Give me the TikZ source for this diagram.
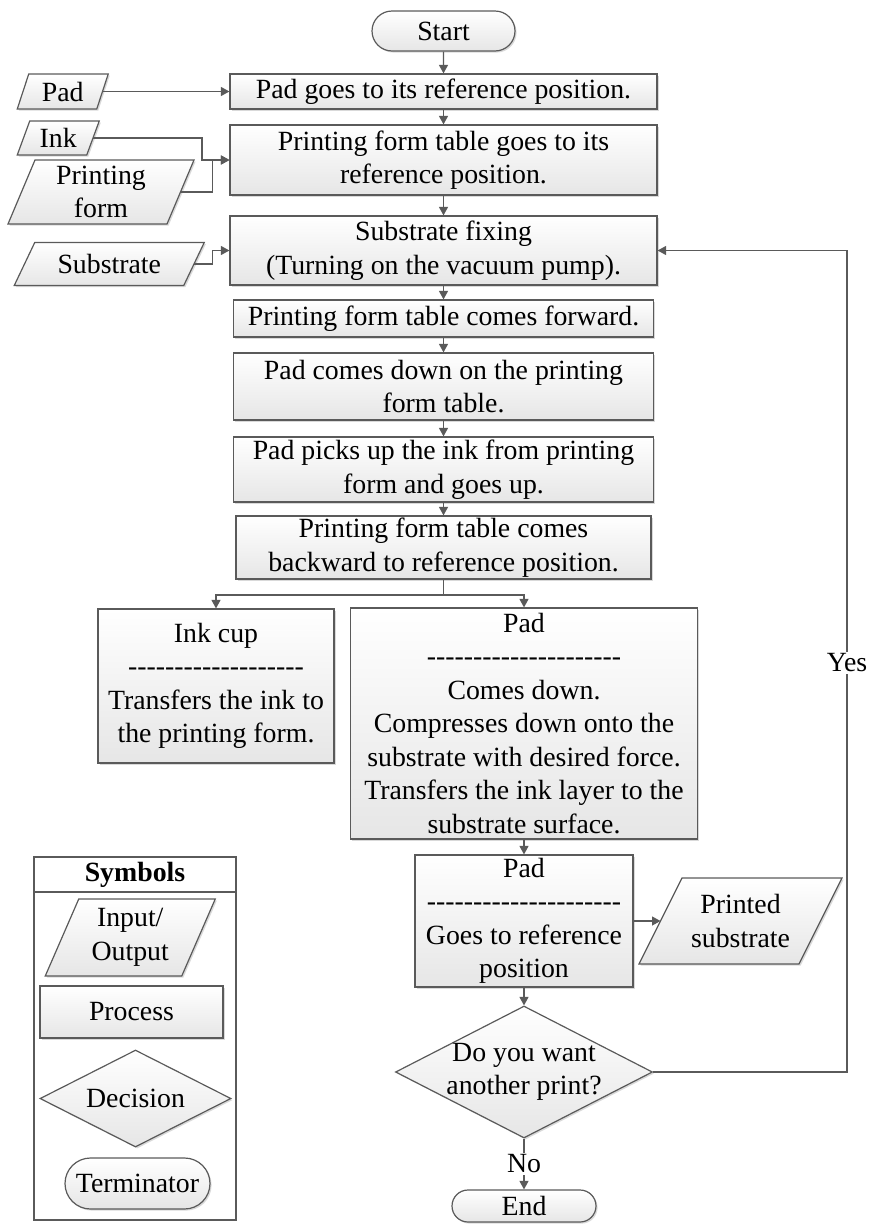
\documentclass[tikz,border=0pt]{standalone}
\usepackage{fontspec}
\setmainfont{Liberation Serif}
\usetikzlibrary{arrows.meta,shapes.geometric,shapes.misc,shadows}

\definecolor{linegray}{HTML}{5A5A5A}
\definecolor{shadebottom}{HTML}{E6E6E6}

\newcommand\basefont{\fontsize{27.8pt}{33.5pt}\selectfont}
% a row of separate hyphens (kerns stop them merging into dashes)
\newcommand\dashrow[1]{\foreach \k in {1,...,#1}{-\kern0pt}}

\tikzset{
  line/.style={draw=linegray, line width=1.2pt},
  arrow/.style={line, -{Triangle[length=8.5pt,width=9pt]}},
  shaded/.style={top color=white, bottom color=shadebottom, draw=linegray,
    line width=1.2pt,
    drop shadow={shadow xshift=1.6pt, shadow yshift=-1.6pt, opacity=0.15, fill=black}},
  size/.style 2 args={minimum width=#1pt, minimum height=#2pt},
  process/.style={shaded, rectangle, align=center, inner sep=0pt},
  terminal/.style={shaded, rounded rectangle, inner sep=0pt},
  decision/.style={shaded, diamond, inner sep=0pt},
  plain/.style={align=center, inner sep=0pt},
  iotext/.style={rectangle, align=center, inner sep=0pt, outer sep=0pt},
  tag/.style={fill=white, inner sep=1.5pt},
}

% parallelogram: name, centre x, centre y, side length, height, offset of top edge, text
\newcommand\ioshape[7]{%
  \path[shaded] ({#2-#4/2-#6/2},{#3+#5/2}) -- ({#2+#4/2-#6/2},{#3+#5/2})
    -- ({#2+#4/2+#6/2},{#3-#5/2}) -- ({#2-#4/2+#6/2},{#3-#5/2}) -- cycle;
  \node[iotext, size={#4}{#5}] (#1) at (#2,#3) {#7};}

\begin{document}
\begin{tikzpicture}[x=1pt, y=-1pt, font=\basefont]
\useasboundingbox (0,0) rectangle (869,1224);

% main column
\node[terminal, size={143}{40}] (start) at (443.5,31) {Start};
\node[process, size={427}{35}] (b1) at (443.5,91.5) {Pad goes to its reference position.};
\node[process, size={427}{70}] (b2) at (443.5,160) {Printing form table goes to its\\reference position.};
\node[process, size={427}{69}] (b3) at (443.5,250.5) {Substrate fixing\\(Turning on the vacuum pump).};
\node[process, size={420}{37}] (b4) at (443.5,318.5) {Printing form table comes forward.};
\node[process, size={420}{67}] (b5) at (443.5,386.5) {Pad comes down on the printing\\form table.};
\node[process, size={420}{65}] (b6) at (443.5,469.5) {Pad picks up the ink from printing\\form and goes up.};
\node[process, size={415}{63}] (b7) at (443.5,547.5) {Printing form table comes\\backward to reference position.};

% two branches
\node[process, size={236}{154}] (inkcup) at (216,686)
  {Ink cup\\\dashrow{19}\\Transfers the ink to\\the printing form.};
\node[process, size={347}{231}] (padbig) at (524,723.5)
  {Pad\\\dashrow{21}\\Comes down.\\Compresses down onto the\\substrate with desired force.\\Transfers the ink layer to the\\substrate surface.};
\node[process, size={218}{132}] (padsmall) at (524,921)
  {Pad\\\dashrow{21}\\Goes to reference\\position};
\node[decision, size={257}{132}] (dec) at (524,1072) {};
\node[plain] (dectext) at (dec) {Do you want\\another print?};
\node[terminal, size={144}{32}] (end) at (524,1206) {End};

% inputs and output
\ioshape{padin}{62.75}{91.5}{79.5}{35}{11.5}{Pad}
\ioshape{ink}{58.25}{138}{69.5}{34}{12.5}{Ink}
\ioshape{pform}{101}{192}{159}{64}{27}{Printing\\form}
\ioshape{subin}{109.25}{264}{169.5}{43}{20.5}{Substrate}
\ioshape{printed}{740.5}{921}{160}{86}{43}{Printed\\substrate}

% connectors of the main column
\draw[arrow] (start) -- (b1);
\draw[arrow] (b1) -- (b2);
\draw[arrow] (b2) -- (b3);
\draw[arrow] (b3) -- (b4);
\draw[arrow] (b4) -- (b5);
\draw[arrow] (b5) -- (b6);
\draw[arrow] (b6) -- (b7);

\coordinate (split) at (443.5,595);
\draw[line] (b7.south) -- (split);
\draw[arrow] (split) -| (inkcup.north);
\draw[arrow] (split) -| (padbig.north);
\draw[arrow] (padbig) -- (padsmall);
\draw[arrow] (padsmall) -- (dec);
\draw[arrow] (padsmall.east) -- (printed.west);
\draw[arrow] (dec.south) -- node[tag] (no) {No} (end.north);

% loop back for another print
\coordinate (loopturn) at (847,1072);
\draw[arrow] (dec.east) -- (loopturn) |- (b3.east);
\node[tag] (yes) at (847,663) {Yes};

% inputs feeding the first steps
\coordinate (inkbend) at (202,160);
\coordinate (formbend) at (212.5,160);
\coordinate (subbend) at (212.5,250.5);
\draw[arrow] (padin.east) -- (b1.west);
\draw[arrow] (ink.east) -| (inkbend) -- (b2.west);
\draw[arrow] (pform.east) -| (formbend) -- (b2.west);
\draw[arrow] (subin.east) -| (subbend) -- (b3.west);

% legend of symbols
\node[draw=linegray, line width=1.2pt, size={202}{363}, inner sep=0pt] (legend) at (135,1038.5) {};
\coordinate (legendrule) at (135,892);
\draw[line] (legend.west |- legendrule) -- (legend.east |- legendrule);
\node[plain, font={\basefont\bfseries}] (legendtitle) at (135,874.5) {Symbols};
\ioshape{legio}{130.25}{937.5}{136.5}{77}{33.5}{Input/\\Output}
\node[process, size={183}{52}] (legproc) at (131.5,1012) {Process};
\node[decision, size={191}{97}] (legdec) at (135.5,1098.5) {};
\node[plain] (legdectext) at (legdec) {Decision};
\node[terminal, size={145}{51}] (legterm) at (137.5,1183.5) {Terminator};
\end{tikzpicture}
\end{document}
